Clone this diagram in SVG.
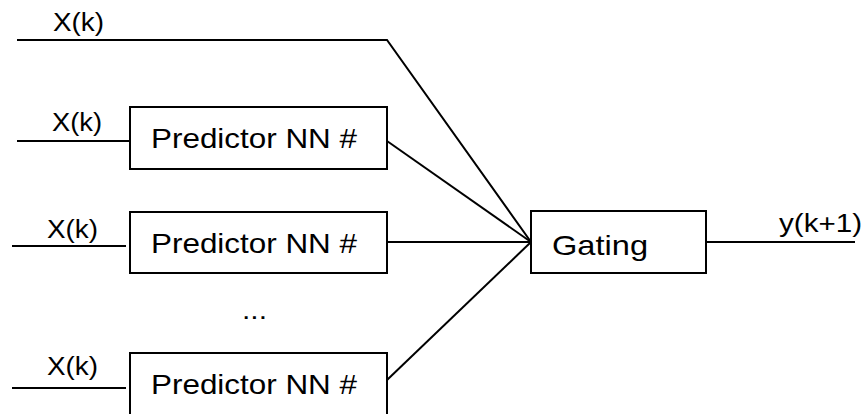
<svg xmlns="http://www.w3.org/2000/svg" width="866" height="414" viewBox="0 0 866 414">
<style>
.box{fill:#fff;stroke:#000;stroke-width:2}
.ln{fill:none;stroke:#000;stroke-width:2}
text{font-family:"Liberation Sans",Arial,sans-serif;fill:#000}
.lbl{font-size:25px}
.bt{font-size:28px}
</style>
<rect width="866" height="414" fill="#fff"/>
<g id="connectors">
<polyline class="ln" points="17,40 387,40 531,242"/>
<line class="ln" x1="17" y1="141" x2="130" y2="141"/>
<line class="ln" x1="387" y1="141" x2="531" y2="242"/>
<line class="ln" x1="12" y1="246" x2="126" y2="246"/>
<line class="ln" x1="387" y1="242" x2="531" y2="242"/>
<line class="ln" x1="12" y1="388" x2="126" y2="388"/>
<line class="ln" x1="387" y1="380" x2="531" y2="242"/>
<line class="ln" x1="706" y1="242" x2="855" y2="242"/>
</g>
<g id="input-labels">
<text class="lbl" x="53" y="31" textLength="51" lengthAdjust="spacingAndGlyphs">X(k)</text>
<text class="lbl" x="52" y="131" textLength="50" lengthAdjust="spacingAndGlyphs">X(k)</text>
<text class="lbl" x="47" y="238" textLength="51" lengthAdjust="spacingAndGlyphs">X(k)</text>
<text class="lbl" x="47" y="375" textLength="51" lengthAdjust="spacingAndGlyphs">X(k)</text>
</g>
<g id="predictor1">
<rect class="box" x="130" y="107" width="257" height="62"/>
<text class="bt" x="151" y="148" textLength="206" lengthAdjust="spacingAndGlyphs">Predictor NN #</text>
</g>
<g id="predictor2">
<rect class="box" x="130" y="212" width="257" height="61"/>
<text class="bt" x="151" y="253" textLength="206" lengthAdjust="spacingAndGlyphs">Predictor NN #</text>
</g>
<g id="ellipsis">
<text class="lbl" x="242" y="319" textLength="25" lengthAdjust="spacingAndGlyphs">...</text>
</g>
<g id="predictor3">
<rect class="box" x="130" y="353" width="257" height="70"/>
<text class="bt" x="151" y="394" textLength="206" lengthAdjust="spacingAndGlyphs">Predictor NN #</text>
</g>
<g id="gating">
<rect class="box" x="531" y="211" width="175" height="62"/>
<text class="bt" x="552" y="255" textLength="96" lengthAdjust="spacingAndGlyphs">Gating</text>
</g>
<g id="output-label">
<text class="lbl" x="779" y="232" textLength="83" lengthAdjust="spacingAndGlyphs">y(k+1)</text>
</g>
</svg>
